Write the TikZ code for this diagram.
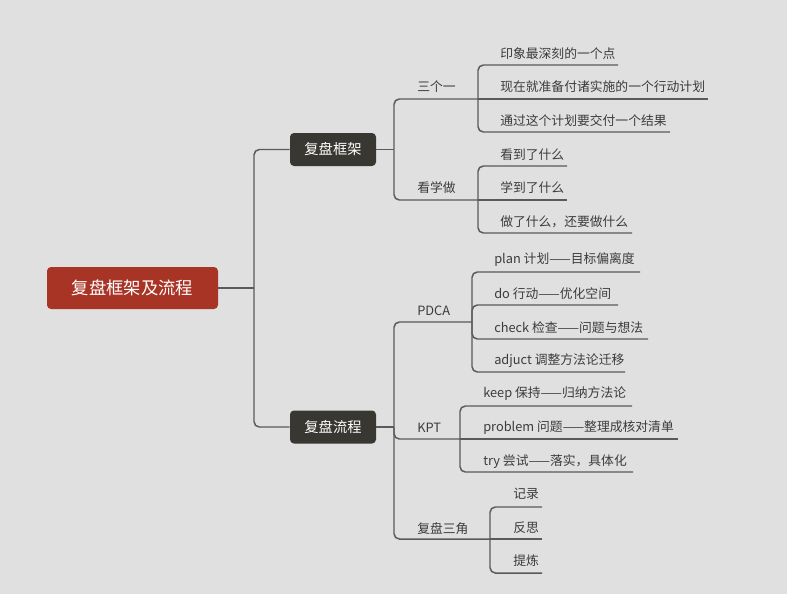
\documentclass[tikz,border=0pt]{standalone}
\usepackage{fontspec}
\setmainfont{Noto Sans CJK SC}
\definecolor{bgc}{HTML}{E0E0E0}
\definecolor{rootred}{HTML}{A83426}
\definecolor{darkbox}{HTML}{383732}
\definecolor{linegray}{HTML}{5A5A5C}
\definecolor{txt}{HTML}{3C3C3C}
\begin{document}
\begin{tikzpicture}[x=0.75pt,y=-0.75pt,
  conn/.style={draw=linegray, line width=1.1pt, rounded corners=4pt},
  leaf/.style={anchor=west, inner sep=0pt, yshift=-1.1pt, text=txt, font=\fontsize{9.6pt}{11pt}\selectfont},
  rootbox/.style={fill=rootred, rounded corners=3pt, text=white, font=\fontsize{13pt}{15pt}\selectfont, minimum width=128.25pt, minimum height=31.5pt, inner sep=0pt},
  mainbox/.style={fill=darkbox, rounded corners=3pt, text=white, font=\fontsize{10.7pt}{12pt}\selectfont, minimum width=64.5pt, minimum height=24.75pt, inner sep=0pt}]
\fill[bgc] (0,0) rectangle (787,594);
\useasboundingbox (0,0) rectangle (787,594);

% root and main topics
\node[rootbox] (root) at (132.5,288) {复盘框架及流程};
\node[mainbox] (kj) at (333,149.5) {复盘框架};
\node[mainbox] (lc) at (333,427) {复盘流程};
\coordinate (t) at (254,288);
\draw[conn] (root.east) -- (t);
\draw[conn] (t) |- (kj.west);
\draw[conn] (t) |- (lc.west);

% ---- 复盘框架 ----
\coordinate (kjj) at (394,149.5);
\draw[conn] (kj.east) -- (kjj);
\node[leaf] (s3) at (417,85) {三个一};
\coordinate (s3e) at (478,99);
\draw[conn] (kjj) |- (s3e);
\node[leaf] (a1) at (500,52) {印象最深刻的一个点};
\node[leaf] (a2) at (500,85) {现在就准备付诸实施的一个行动计划};
\node[leaf] (a3) at (500,119) {通过这个计划要交付一个结果};
\coordinate (a1e) at (618,65);
\coordinate (a2e) at (708,99);
\coordinate (a3e) at (670,132);
\draw[conn] (s3e) |- (a1e);
\draw[conn] (s3e) -- (a2e);
\draw[conn] (s3e) |- (a3e);

\node[leaf] (kxz) at (417,186) {看学做};
\coordinate (kxze) at (478,200);
\draw[conn] (kjj) |- (kxze);
\node[leaf] (b1) at (500,153) {看到了什么};
\node[leaf] (b2) at (500,186) {学到了什么};
\node[leaf] (b3) at (500,220) {做了什么，还要做什么};
\coordinate (b1e) at (567,166);
\coordinate (b2e) at (567,200);
\coordinate (b3e) at (632,233);
\draw[conn] (kxze) |- (b1e);
\draw[conn] (kxze) -- (b2e);
\draw[conn] (kxze) |- (b3e);

% ---- 复盘流程 ----
\coordinate (lcj) at (394,427);
\draw[conn] (lc.east) -- (lcj);

\node[leaf] (pdca) at (417,309) {PDCA};
\coordinate (pdcae) at (472,322);
\draw[conn] (lcj) |- (pdcae);
\node[leaf] (c1) at (494,258) {plan 计划——目标偏离度};
\node[leaf] (c2) at (494,292) {do 行动——优化空间};
\node[leaf] (c3) at (494,326) {check 检查——问题与想法};
\node[leaf] (c4) at (494,359) {adjuct 调整方法论迁移};
\coordinate (c1e) at (640,272);
\coordinate (c2e) at (618,305);
\coordinate (c3e) at (648,339);
\coordinate (c4e) at (625,372);
\draw[conn] (pdcae) |- (c1e);
\draw[conn] (pdcae) |- (c2e);
\draw[conn] (pdcae) |- (c3e);
\draw[conn] (pdcae) |- (c4e);

\node[leaf] (kpt) at (417,426) {KPT};
\coordinate (kpte) at (460,439);
\draw[conn] (lcj) |- (kpte);
\node[leaf] (d1) at (483,392) {keep 保持——归纳方法论};
\node[leaf] (d2) at (483,426) {problem 问题——整理成核对清单};
\node[leaf] (d3) at (483,460) {try 尝试——落实，具体化};
\coordinate (d1e) at (632,406);
\coordinate (d2e) at (678,439);
\coordinate (d3e) at (633,472);
\draw[conn] (kpte) |- (d1e);
\draw[conn] (kpte) -- (d2e);
\draw[conn] (kpte) |- (d3e);

\node[leaf] (fp) at (417,527) {复盘三角};
\coordinate (fpe) at (490,539);
\draw[conn] (lcj) |- (fpe);
\node[leaf] (e1) at (513,492) {记录};
\node[leaf] (e2) at (513,526) {反思};
\node[leaf] (e3) at (513,559) {提炼};
\coordinate (e1e) at (542,507);
\coordinate (e2e) at (542,539);
\coordinate (e3e) at (542,573);
\draw[conn] (fpe) |- (e1e);
\draw[conn] (fpe) -- (e2e);
\draw[conn] (fpe) |- (e3e);
\end{tikzpicture}
\end{document}
